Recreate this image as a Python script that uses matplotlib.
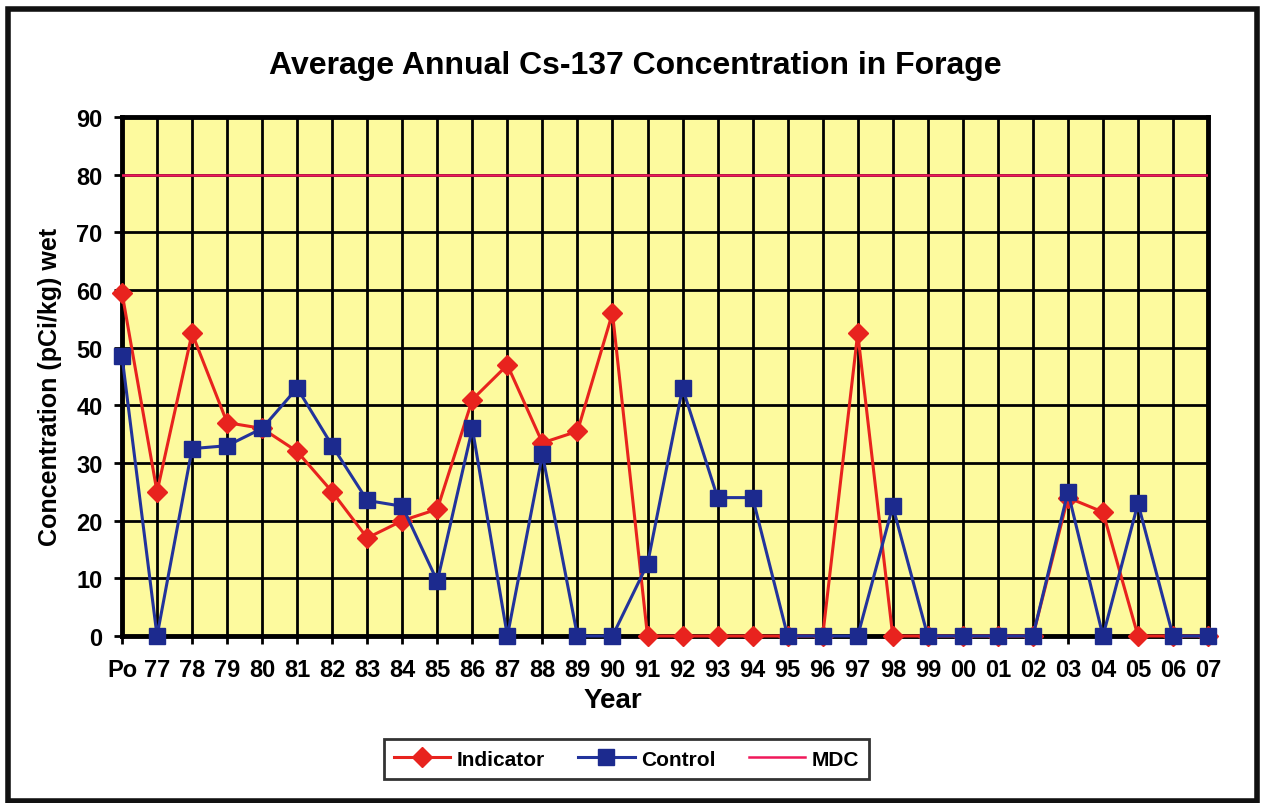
#!/usr/bin/env python

import matplotlib
matplotlib.use("Agg")
import matplotlib.pyplot as plt
from matplotlib.patches import Rectangle

plt.rcParams['font.family'] = ['Liberation Sans', 'DejaVu Sans']
plt.rcParams['font.weight'] = 'bold'

years = ['Po', '77', '78', '79', '80', '81', '82', '83', '84', '85', '86',
         '87', '88', '89', '90', '91', '92', '93', '94', '95', '96', '97',
         '98', '99', '00', '01', '02', '03', '04', '05', '06', '07']
indicator = [59.5, 25, 52.5, 37, 36, 32, 25, 17, 20, 22, 41,
             47, 33.5, 35.5, 56, 0, 0, 0, 0, 0, 0, 52.5,
             0, 0, 0, 0, 0, 24, 21.5, 0, 0, 0]
control = [48.5, 0, 32.5, 33, 36, 43, 33, 23.5, 22.5, 9.5, 36,
           0, 31.5, 0, 0, 12.5, 43, 24, 24, 0, 0, 0,
           22.5, 0, 0, 0, 0, 25, 0, 23, 0, 0]
mdc = 80

fig = plt.figure(figsize=(12.63, 8.04), dpi=100)
fig.patches.append(Rectangle((0.006, 0.003), 0.989, 0.985, transform=fig.transFigure,
                             fill=False, edgecolor='#111111', linewidth=4))

ax = fig.add_axes([0.0966, 0.2077, 0.8599, 0.6455])
ax.set_facecolor('#fdfa9e')
x = list(range(len(years)))

ax.axhline(mdc, color='#f0185a', linewidth=1.8, zorder=3, label='MDC')
ax.plot(x, indicator, color='#e8231e', marker='D', markersize=10, linewidth=2.2,
        zorder=4, label='Indicator', clip_on=False)
ax.plot(x, control, color='#22339c', marker='s', markersize=12, linewidth=2.2,
        markerfacecolor='#1c2a8e', markeredgecolor='#1c2a8e', zorder=5,
        label='Control', clip_on=False)

ax.set_xlim(0, len(years) - 1)
ax.set_ylim(0, 90)
ax.set_xticks(x)
ax.set_xticklabels(years)
ax.set_yticks(range(0, 91, 10))
ax.grid(True, color='black', linewidth=2)
ax.set_axisbelow(True)
for s in ax.spines.values():
    s.set_linewidth(3.5)
ax.tick_params(axis='both', direction='out', length=6, width=2, labelsize=17)
ax.tick_params(axis='x', pad=10)
ax.tick_params(axis='y', pad=8)
for lbl in ax.get_xticklabels() + ax.get_yticklabels():
    lbl.set_fontweight('bold')

fig.text(0.503, 0.918, 'Average Annual Cs-137 Concentration in Forage', fontsize=23,
         fontweight='bold', ha='center', va='center')
ax.set_xlabel('Year', fontsize=20, fontweight='bold')
ax.xaxis.set_label_coords(0.452, -0.098)
ax.set_ylabel('Concentration (pCi/kg) wet', fontsize=18, fontweight='bold')
ax.yaxis.set_label_coords(-0.055, 0.482)

handles, labels = ax.get_legend_handles_labels()
order = [1, 2, 0]
leg = fig.legend([handles[i] for i in order], [labels[i] for i in order],
                 loc='center', bbox_to_anchor=(0.496, 0.0545), ncol=3, frameon=True,
                 fancybox=False, edgecolor='black', fontsize=15, handlelength=2.7,
                 handletextpad=0.3, columnspacing=1.6, borderpad=0.5)
leg.get_frame().set_linewidth(2)
for t in leg.get_texts():
    t.set_fontweight('bold')

fig.savefig('out.png', dpi=100)
